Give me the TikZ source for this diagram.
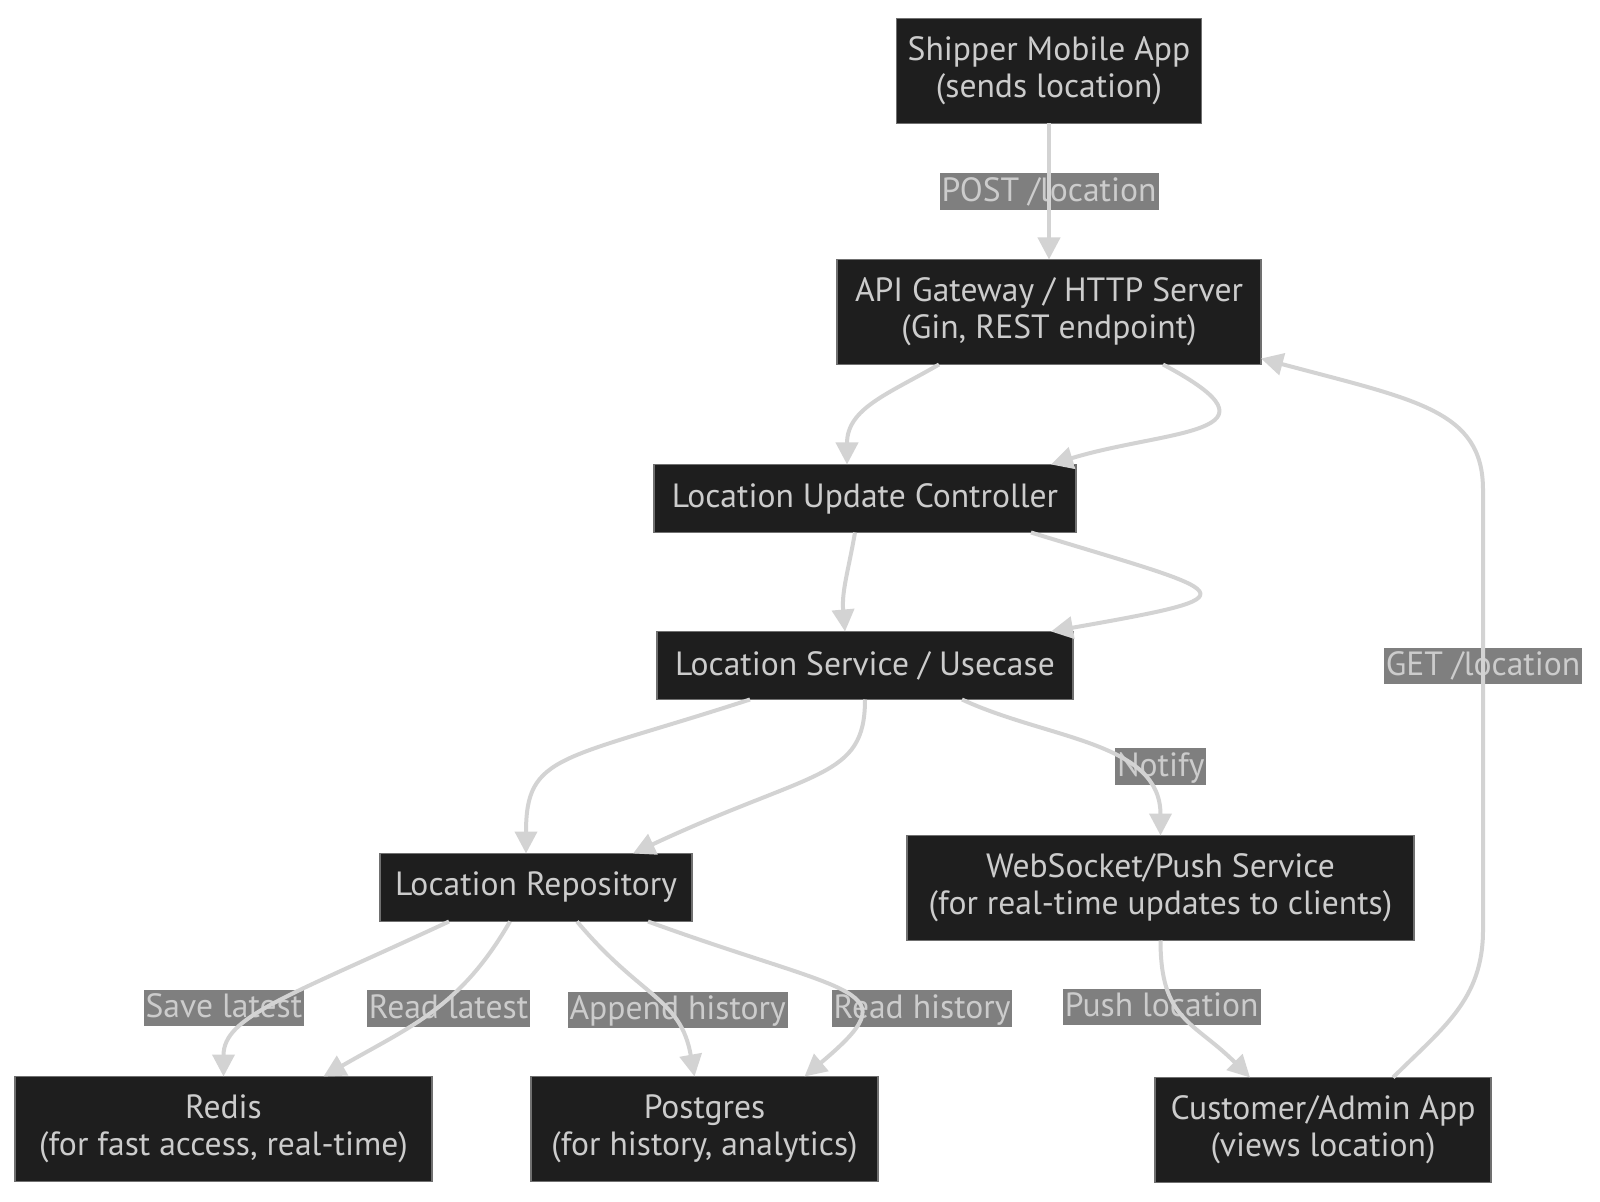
\documentclass[tikz,border=0pt]{standalone}
\usepackage{fontspec}
\setmainfont{PT Sans}
\usepackage{xcolor}
\usetikzlibrary{arrows.meta,positioning}

\definecolor{nodefill}{HTML}{1E1E1E}
\definecolor{nodeborder}{HTML}{707070}
\definecolor{nodetext}{HTML}{CCCCCC}
\definecolor{edgecol}{HTML}{D3D3D3}
\definecolor{labelbg}{HTML}{7F7F7F}

\begin{document}
\begin{tikzpicture}[node distance=2cm]
    % Styles
    \tikzstyle{block} = [rectangle, draw=nodeborder, line width=0.6pt, fill=nodefill, text=nodetext, align=center, inner sep=0pt, outer sep=0pt, minimum height=34pt, font=\fontsize{16.8}{18.4}\selectfont]
    \tikzstyle{tall} = [block, minimum height=52.5pt]
    \tikzstyle{arrow} = [draw=edgecol, line width=2pt, -{Triangle[length=11pt,width=11pt]}]
    \tikzstyle{elabel} = [fill=labelbg, text=nodetext, inner xsep=1pt, inner ysep=1.2pt, text height=13pt, text depth=3pt, font=\fontsize{16.8}{18.4}\selectfont, behind path]

    \useasboundingbox (0,0) rectangle (800pt,-601pt);

    % Nodes
    \node [tall, minimum width=152.5pt] (ship) at (524.5pt,-35.5pt) {Shipper Mobile App\\(sends location)};
    \node [tall, minimum width=212pt, below=68pt of ship] (api) {API Gateway / HTTP Server\\(Gin, REST endpoint)};
    \node [block, minimum width=211pt, below=50pt of api, xshift=-92pt] (ctrl) {Location Update Controller};
    \node [block, minimum width=208pt, below=49.5pt of ctrl] (svc) {Location Service / Usecase};
    \node [block, minimum width=156pt, below=77pt of svc, xshift=-164.5pt] (repo) {Location Repository};
    \node [tall, minimum width=253.5pt, below=68pt of svc, xshift=147.75pt] (ws) {WebSocket/Push Service\\(for real-time updates to clients)};
    \node [tall, minimum width=208.5pt, below=77.5pt of repo, xshift=-156.25pt] (redis) {Redis\\(for fast access, real-time)};
    \node [tall, minimum width=173.5pt, below=77.5pt of repo, xshift=84.25pt] (pg) {Postgres\\(for history, analytics)};
    \node [tall, minimum width=168pt, below=68.5pt of ws, xshift=81.25pt] (cust) {Customer/Admin App\\(views location)};

    % Bends of the way back up
    \coordinate (getlow) at (741.5pt,-465pt);
    \coordinate (gethigh) at (741.5pt,-245pt);

    % Connections
    \draw[arrow] (ship) -- node[elabel] {POST /location} (api);

    \draw[arrow] ([xshift=-55pt]api.south) .. controls +(-150:30pt) and +(90:28pt) .. ([xshift=-9pt]ctrl.north);
    \draw[arrow] ([xshift=57pt]api.south) .. controls +(-28:75pt) and +(17:60pt) .. ([xshift=93pt]ctrl.north);

    \draw[arrow] ([xshift=-5pt]ctrl.south) .. controls +(-100:20pt) and +(95:20pt) .. ([xshift=-10pt]svc.north);
    \draw[arrow] ([xshift=83pt]ctrl.south) .. controls +(-17:107pt) and +(10:107pt) .. ([xshift=93pt]svc.north);

    \draw[arrow] ([xshift=-57.5pt]svc.south) .. controls +(-162:100pt) and +(90:50pt) .. ([xshift=-5pt]repo.north);
    \draw[arrow] (svc.south) .. controls +(-90:40pt) and +(25:100pt) .. ([xshift=48.5pt]repo.north);
    \draw[arrow] ([xshift=48.5pt]svc.south) .. controls +(-25:47pt) and +(90:47pt) .. (ws.north) node[elabel, pos=0.66, xshift=17pt] {Notify};

    \draw[arrow] ([xshift=-43.5pt]repo.south) .. controls +(-155:90pt) and +(90:30pt) .. (redis.north) node[elabel, pos=0.6, xshift=-16pt, yshift=5pt] {Save latest};
    \draw[arrow] ([xshift=-13pt]repo.south) .. controls +(-120:50pt) and +(30:50pt) .. ([xshift=50pt]redis.north) node[elabel, pos=0.5, xshift=9pt, yshift=2pt] {Read latest};
    \draw[arrow] ([xshift=20.5pt]repo.south) .. controls +(-50:50pt) and +(100:40pt) .. ([xshift=-5pt]pg.north) node[elabel, pos=0.6, xshift=6pt] {Append history};
    \draw[arrow] ([xshift=56pt]repo.south) .. controls +(-20:110pt) and +(40:70pt) .. ([xshift=50pt]pg.north) node[elabel, pos=0.5, xshift=39pt, yshift=-7.5pt] {Read history};

    \draw[arrow] (ws.south) .. controls +(-90:40pt) and +(135:40pt) .. ([xshift=-36.5pt]cust.north) node[elabel, pos=0.4, xshift=-7pt] {Push location};
    \draw[arrow] ([xshift=35pt]cust.north) .. controls +(45:35pt) and +(-90:35pt) .. (getlow) -- (gethigh) node[elabel, pos=0.6] {GET /location} .. controls +(90:40pt) and +(-15:80pt) .. ([yshift=3pt]api.south east);
\end{tikzpicture}
\end{document}
